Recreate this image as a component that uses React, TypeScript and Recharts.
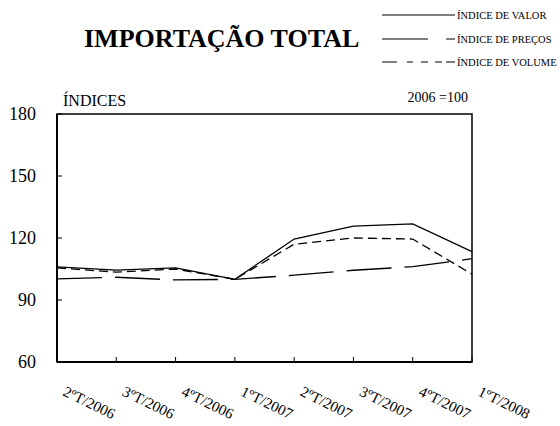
import { LineChart, Line, XAxis, YAxis, ReferenceArea } from 'recharts'

const QUARTERS = ['2ºT/2006', '3ºT/2006', '4ºT/2006', '1ºT/2007', '2ºT/2007', '3ºT/2007', '4ºT/2007', '1ºT/2008']
const VALOR = [106, 104.5, 105.5, 100, 119.5, 125.7, 126.8, 113.4]
const PRECOS = [105.5, 103.5, 105, 100, 117, 120, 119.5, 102.5]
const VOLUME = [100.2, 101, 99.7, 100, 102, 104.4, 106.1, 110]
const Y_TICKS = [60, 90, 120, 150, 180]
const SERIES_NAMES = ['ÍNDICE DE VALOR', 'ÍNDICE DE PREÇOS', 'ÍNDICE DE VOLUME']

const FONT = "'Liberation Serif', 'Times New Roman', Times, serif"

const data = QUARTERS.map((q, i) => ({
  quarter: q,
  valor: VALOR[i],
  precos: PRECOS[i],
  volume: VOLUME[i],
}))

function XTick(props: any) {
  const { x, y, payload } = props
  const tx = x + 5
  const ty = y + 33
  return (
    <g>
      <line x1={x} y1={y} x2={x} y2={y - 5} stroke="#000" strokeWidth={1} />
      <text
        x={tx}
        y={ty}
        transform={`rotate(26, ${tx}, ${ty})`}
        textAnchor="start"
        style={{ fontFamily: FONT, fontSize: 15 }}
        fill="#000"
      >
        {payload.value}
      </text>
    </g>
  )
}

function YTick(props: any) {
  const { x, y, payload } = props
  return (
    <g>
      <line x1={x} y1={y} x2={x + 5} y2={y} stroke="#000" strokeWidth={1} />
      <text x={x - 21} y={y} dy={6} textAnchor="end" style={{ fontFamily: FONT, fontSize: 18 }} fill="#000">
        {payload.value}
      </text>
    </g>
  )
}

// legend samples, drawn like the original (segments in px)
const LEGEND_SEGMENTS = [
  [[382, 455]],
  [[382, 428], [446, 455]],
  [[382, 397], [407, 413], [421, 428], [435, 442], [446, 455]],
]
const LEGEND_ROWS = [15, 39, 62]

export default function App() {
  return (
    <div style={{ position: 'absolute', left: 0, top: 0, width: 560, height: 426, background: '#fff' }}>
      <LineChart width={560} height={426} data={data} margin={{ top: 114, right: 88, bottom: 0, left: 0 }}>
        <XAxis
          dataKey="quarter"
          padding={{ left: 0, right: 0 }}
          height={64}
          tickSize={0}
          tickMargin={0}
          tickLine={false}
          axisLine={{ stroke: '#000', strokeWidth: 2 }}
          tick={<XTick />}
          interval={0}
        />
        <YAxis
          domain={[60, 180]}
          ticks={Y_TICKS}
          width={57}
          tickSize={0}
          tickMargin={0}
          tickLine={false}
          axisLine={{ stroke: '#000', strokeWidth: 2 }}
          tick={<YTick />}
          interval={0}
        />
        <ReferenceArea
          x1={QUARTERS[0]}
          x2={QUARTERS[QUARTERS.length - 1]}
          y1={60}
          y2={180}
          fill="none"
          stroke="#000"
          strokeWidth={1.5}
          fillOpacity={0}
        />
        <Line dataKey="valor" stroke="#000" strokeWidth={1.3} dot={false} isAnimationActive={false} />
        <Line
          dataKey="precos"
          stroke="#000"
          strokeWidth={1.3}
          strokeDasharray="9 5"
          dot={false}
          isAnimationActive={false}
        />
        <Line
          dataKey="volume"
          stroke="#000"
          strokeWidth={1.3}
          strokeDasharray="45 13"
          dot={false}
          isAnimationActive={false}
        />
      </LineChart>
      <svg width={560} height={426} style={{ position: 'absolute', left: 0, top: 0, pointerEvents: 'none' }}>
        <text x={84} y={47} style={{ fontFamily: FONT, fontSize: 26, fontWeight: 'bold' }} fill="#000">
          IMPORTAÇÃO TOTAL
        </text>
        {SERIES_NAMES.map((name, i) => (
          <g key={name}>
            {LEGEND_SEGMENTS[i].map(([a, b], j) => (
              <line key={j} x1={a} y1={LEGEND_ROWS[i]} x2={b} y2={LEGEND_ROWS[i]} stroke="#000" strokeWidth={1} />
            ))}
            <text x={457} y={LEGEND_ROWS[i] + 4} style={{ fontFamily: FONT, fontSize: 10.5 }} fill="#000">
              {name}
            </text>
          </g>
        ))}
        <text x={63} y={106} style={{ fontFamily: FONT, fontSize: 16 }} fill="#000">
          ÍNDICES
        </text>
        <text x={468} y={102} textAnchor="end" style={{ fontFamily: FONT, fontSize: 14 }} fill="#000">
          2006 =100
        </text>
      </svg>
    </div>
  )
}
